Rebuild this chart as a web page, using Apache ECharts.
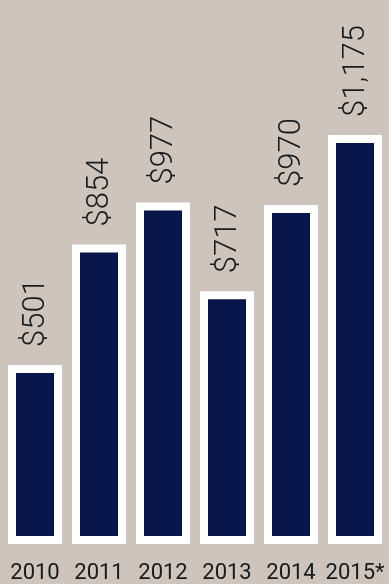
<!DOCTYPE html>
<html>
<head>
<meta charset="utf-8">
<script src="https://cdn.jsdelivr.net/npm/echarts@6/dist/echarts.min.js"></script>
<style>
  html, body { margin: 0; padding: 0; background: #cdc5bd; }
  #main { width: 389px; height: 584px; }
</style>
</head>
<body>
<div id="main"></div>
<script>
// data
var years = ['2010', '2011', '2012', '2013', '2014', '2015*'];
var amounts = [501, 854, 977, 717, 970, 1175];

var navy = '#07154a';
var frame = 8;     // white frame thickness
var barW = 54;     // outer width of a bar

var chart = echarts.init(document.getElementById('main'));

// bar with a white frame that also runs below the baseline
function renderBar(params, api) {
  var top = api.coord([api.value(0), api.value(1)]);
  var base = api.coord([api.value(0), 0]);
  var x = top[0] - barW / 2;
  var h = base[1] - top[1];
  return {
    type: 'group',
    children: [
      {
        type: 'rect',
        shape: { x: x, y: top[1], width: barW, height: h + frame },
        style: { fill: '#ffffff' }
      },
      {
        type: 'rect',
        shape: { x: x + frame, y: top[1] + frame, width: barW - 2 * frame, height: h - frame },
        style: { fill: navy }
      },
      {
        type: 'text',
        x: top[0] + 1,
        y: top[1] - 18,
        rotation: Math.PI / 2,
        style: {
          text: '$' + api.value(1).toLocaleString('en-US'),
          fill: '#1a1a1a',
          font: '300 31px Roboto',
          align: 'left',
          verticalAlign: 'middle'
        }
      }
    ]
  };
}

var option = {
  backgroundColor: '#cdc5bd',
  animation: false,
  grid: {
    left: 3,
    right: 2,
    top: 24,
    bottom: 44
  },
  xAxis: {
    type: 'category',
    data: years,
    axisLine: { show: false },
    axisTick: { show: false },
    axisLabel: {
      interval: 0,
      color: '#1a1a1a',
      fontFamily: 'Roboto',
      fontSize: 22,
      margin: 26
    }
  },
  yAxis: {
    type: 'value',
    min: 0,
    max: 1500,
    show: false
  },
  series: [
    {
      type: 'custom',
      renderItem: renderBar,
      encode: { x: 0, y: 1 },
      data: amounts.map(function (v, i) { return [i, v]; })
    }
  ]
};

chart.setOption(option);
</script>
</body>
</html>
